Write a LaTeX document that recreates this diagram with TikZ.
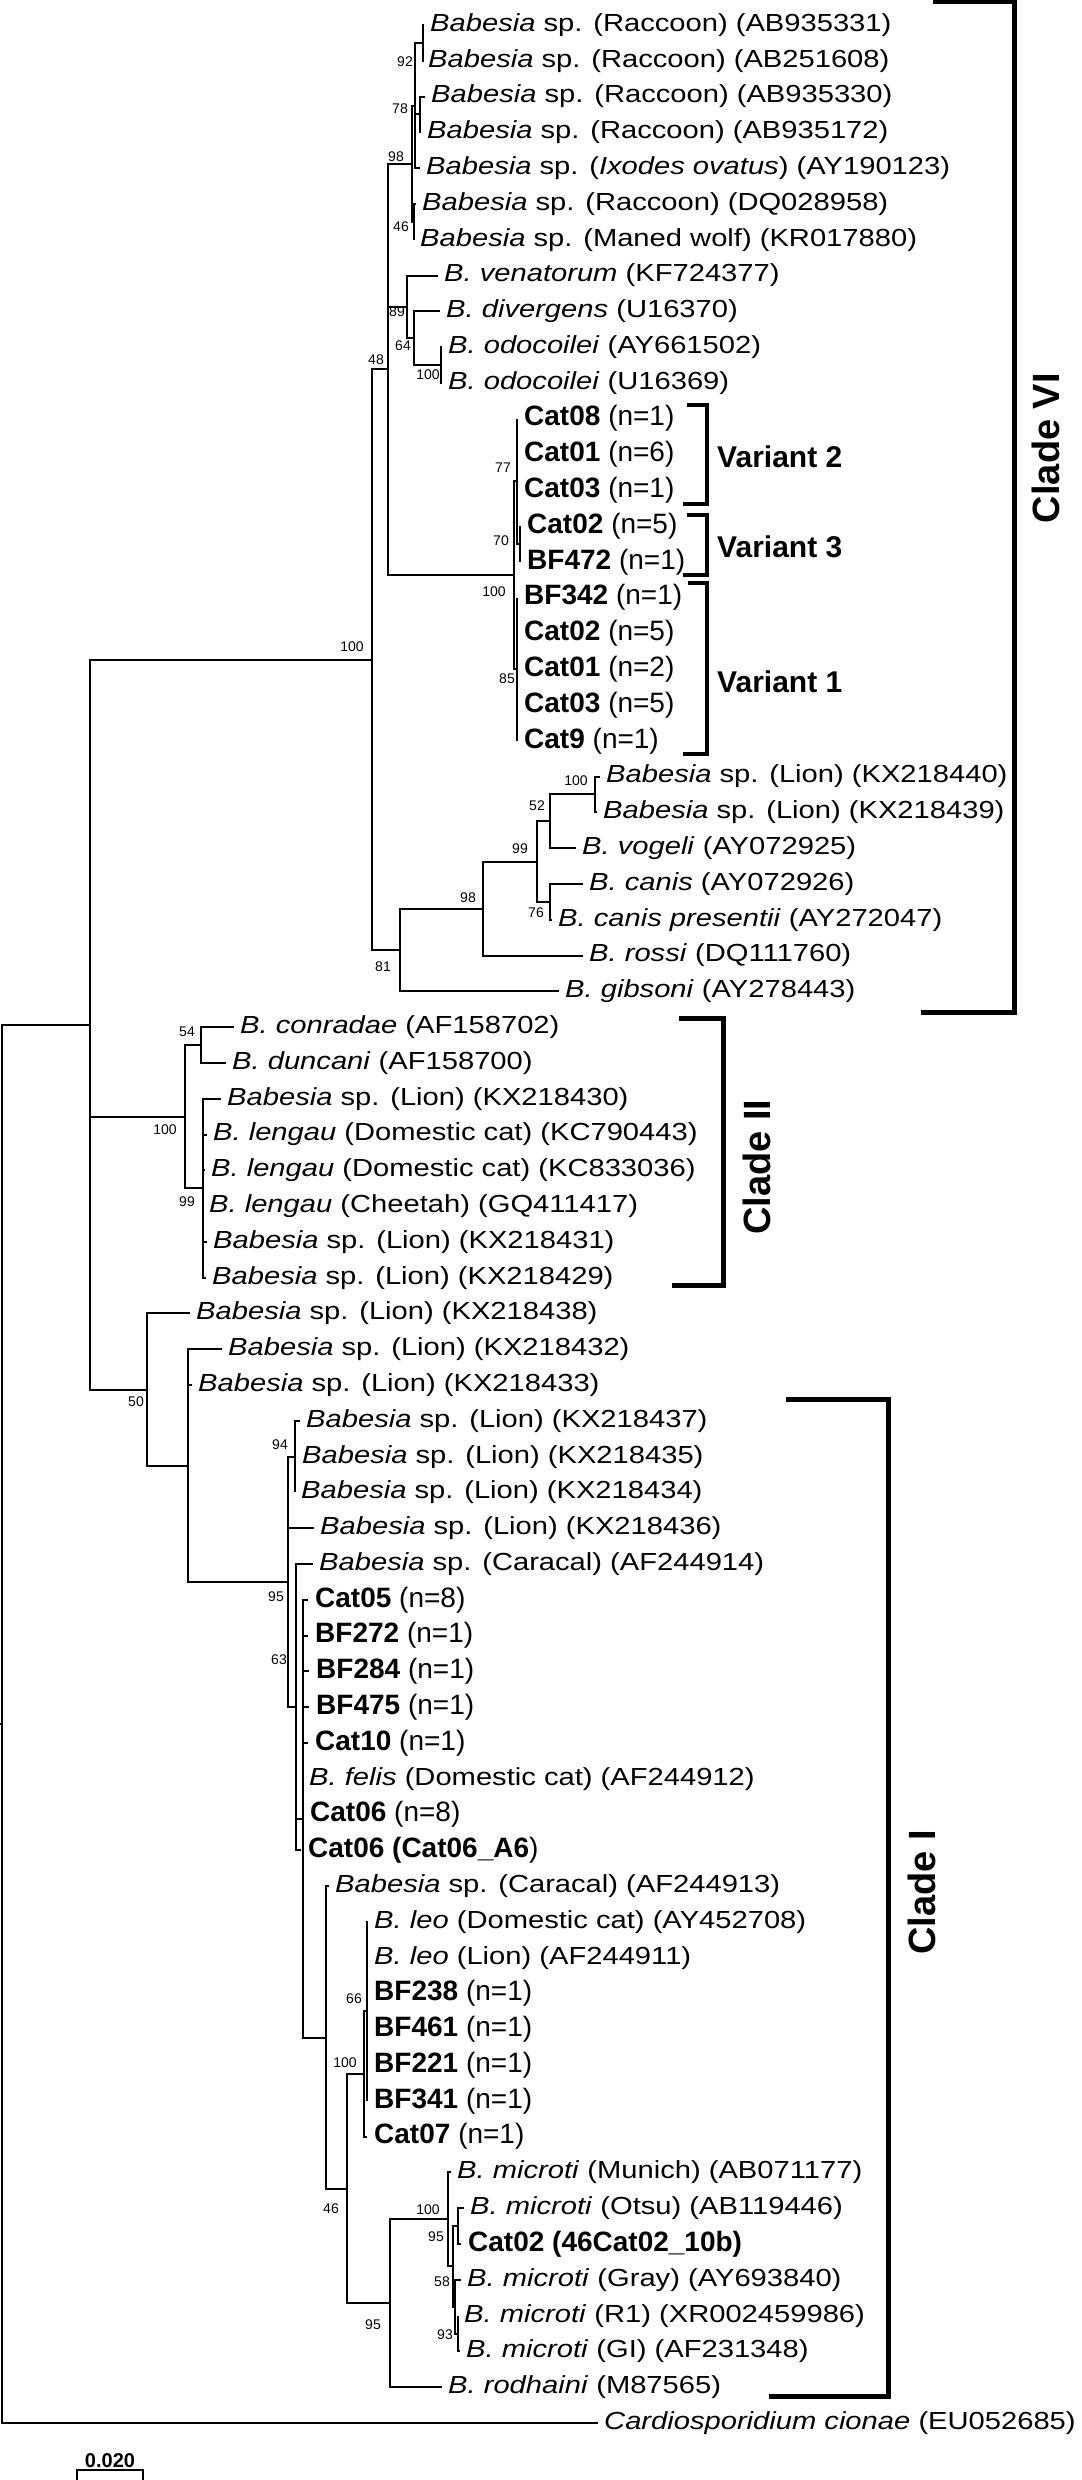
\documentclass[tikz,border=0pt]{standalone}
\usepackage{fontspec}
\setmainfont{Liberation Sans}
\newfontfamily\taxonfont{Liberation Sans}[FakeStretch=1.18]
\usepackage{tikz}

\begin{document}
\begin{tikzpicture}[x=1pt, y=-35.79pt,
  branch/.style={line width=2pt},
  taxon/.style={anchor=west, inner xsep=6pt, inner ysep=0pt, font=\taxonfont\fontsize{24.7}{26}\selectfont},
  sample/.style={anchor=west, inner xsep=7pt, inner ysep=0pt, font=\fontsize{28}{30}\selectfont},
  boot/.style={inner sep=0pt, font=\fontsize{14}{15}\selectfont},
  cladebar/.style={line width=5pt},
  variantbar/.style={line width=4pt},
  cladelabel/.style={rotate=90, inner sep=0pt, font=\bfseries\fontsize{38}{40}\selectfont},
  variantlabel/.style={anchor=west, inner sep=0pt, font=\bfseries\fontsize{30}{32}\selectfont}]
  \useasboundingbox (0,0.3015) rectangle (1081,69.594);

  % Clade VI
  \node[taxon] (l1) at (424,1) {\textit{Babesia} sp. (Raccoon) (AB935331)};
  \node[taxon] (l2) at (422,2) {\textit{Babesia} sp. (Raccoon) (AB251608)};
  \node[taxon] (l3) at (425,3) {\textit{Babesia} sp. (Raccoon) (AB935330)};
  \node[taxon] (l4) at (421,4) {\textit{Babesia} sp. (Raccoon) (AB935172)};
  \node[taxon] (l5) at (420,5) {\textit{Babesia} sp. (\textit{Ixodes ovatus}) (AY190123)};
  \node[taxon] (l6) at (416,6) {\textit{Babesia} sp. (Raccoon) (DQ028958)};
  \node[taxon] (l7) at (414,7) {\textit{Babesia} sp. (Maned wolf) (KR017880)};
  \node[taxon] (l8) at (438,8) {\textit{B. venatorum} (KF724377)};
  \node[taxon] (l9) at (440,9) {\textit{B. divergens} (U16370)};
  \node[taxon] (l10) at (442,10) {\textit{B. odocoilei} (AY661502)};
  \node[taxon] (l11) at (442,11) {\textit{B. odocoilei} (U16369)};
  \node[sample] (l12) at (517,12) {\textbf{Cat08} (n=1)};
  \node[sample] (l13) at (517,13) {\textbf{Cat01} (n=6)};
  \node[sample] (l14) at (517,14) {\textbf{Cat03} (n=1)};
  \node[sample] (l15) at (520,15) {\textbf{Cat02} (n=5)};
  \node[sample] (l16) at (520,16) {\textbf{BF472} (n=1)};
  \node[sample] (l17) at (517,17) {\textbf{BF342} (n=1)};
  \node[sample] (l18) at (517,18) {\textbf{Cat02} (n=5)};
  \node[sample] (l19) at (517,19) {\textbf{Cat01} (n=2)};
  \node[sample] (l20) at (517,20) {\textbf{Cat03} (n=5)};
  \node[sample] (l21) at (517,21) {\textbf{Cat9} (n=1)};
  \node[taxon] (l22) at (600,22) {\textit{Babesia} sp. (Lion) (KX218440)};
  \node[taxon] (l23) at (597,23) {\textit{Babesia} sp. (Lion) (KX218439)};
  \node[taxon] (l24) at (576,24) {\textit{B. vogeli} (AY072925)};
  \node[taxon] (l25) at (583,25) {\textit{B. canis} (AY072926)};
  \node[taxon] (l26) at (552,26) {\textit{B. canis presentii} (AY272047)};
  \node[taxon] (l27) at (583,27) {\textit{B. rossi} (DQ111760)};
  \node[taxon] (l28) at (559,28) {\textit{B. gibsoni} (AY278443)};

  % Clade II
  \node[taxon] (l29) at (234,29) {\textit{B. conradae} (AF158702)};
  \node[taxon] (l30) at (226,30) {\textit{B. duncani} (AF158700)};
  \node[taxon] (l31) at (221,31) {\textit{Babesia} sp. (Lion) (KX218430)};
  \node[taxon] (l32) at (207,32) {\textit{B. lengau} (Domestic cat) (KC790443)};
  \node[taxon] (l33) at (205,33) {\textit{B. lengau} (Domestic cat) (KC833036)};
  \node[taxon] (l34) at (203,34) {\textit{B. lengau} (Cheetah) (GQ411417)};
  \node[taxon] (l35) at (207,35) {\textit{Babesia} sp. (Lion) (KX218431)};
  \node[taxon] (l36) at (206,36) {\textit{Babesia} sp. (Lion) (KX218429)};

  % lion isolates and Clade I
  \node[taxon] (l37) at (190,37) {\textit{Babesia} sp. (Lion) (KX218438)};
  \node[taxon] (l38) at (222,38) {\textit{Babesia} sp. (Lion) (KX218432)};
  \node[taxon] (l39) at (192,39) {\textit{Babesia} sp. (Lion) (KX218433)};
  \node[taxon] (l40) at (300,40) {\textit{Babesia} sp. (Lion) (KX218437)};
  \node[taxon] (l41) at (296,41) {\textit{Babesia} sp. (Lion) (KX218435)};
  \node[taxon] (l42) at (295,42) {\textit{Babesia} sp. (Lion) (KX218434)};
  \node[taxon] (l43) at (314,43) {\textit{Babesia} sp. (Lion) (KX218436)};
  \node[taxon] (l44) at (313,44) {\textit{Babesia} sp. (Caracal) (AF244914)};
  \node[sample] (l45) at (308,45) {\textbf{Cat05} (n=8)};
  \node[sample] (l46) at (308,46) {\textbf{BF272} (n=1)};
  \node[sample] (l47) at (309,47) {\textbf{BF284} (n=1)};
  \node[sample] (l48) at (309,48) {\textbf{BF475} (n=1)};
  \node[sample] (l49) at (308,49) {\textbf{Cat10} (n=1)};
  \node[taxon] (l50) at (303,50) {\textit{B. felis} (Domestic cat) (AF244912)};
  \node[sample] (l51) at (303,51) {\textbf{Cat06} (n=8)};
  \node[sample] (l52) at (301,52) {\textbf{Cat06 (Cat06\_A6})};
  \node[taxon] (l53) at (329,53) {\textit{Babesia} sp. (Caracal) (AF244913)};
  \node[taxon] (l54) at (368,54) {\textit{B. leo} (Domestic cat) (AY452708)};
  \node[taxon] (l55) at (368,55) {\textit{B. leo} (Lion) (AF244911)};
  \node[sample] (l56) at (367,56) {\textbf{BF238} (n=1)};
  \node[sample] (l57) at (367,57) {\textbf{BF461} (n=1)};
  \node[sample] (l58) at (367,58) {\textbf{BF221} (n=1)};
  \node[sample] (l59) at (367,59) {\textbf{BF341} (n=1)};
  \node[sample] (l60) at (367,60) {\textbf{Cat07} (n=1)};
  \node[taxon] (l61) at (451,61) {\textit{B. microti} (Munich) (AB071177)};
  \node[taxon] (l62) at (464,62) {\textit{B. microti} (Otsu) (AB119446)};
  \node[sample] (l63) at (461,63) {\textbf{Cat02 (46Cat02\_10b)}};
  \node[taxon] (l64) at (461,64) {\textit{B. microti} (Gray) (AY693840)};
  \node[taxon] (l65) at (458,65) {\textit{B. microti} (R1) (XR002459986)};
  \node[taxon] (l66) at (460,66) {\textit{B. microti} (GI) (AF231348)};
  \node[taxon] (l67) at (442,67) {\textit{B. rodhaini} (M87565)};

  % outgroup
  \node[taxon] (l68) at (598,68) {\textit{Cardiosporidium cionae} (EU052685)};

  % inner nodes
  \coordinate (stub) at (0,48.46);
  \coordinate (root) at (2,48.46);
  \coordinate (nA) at (90,28.93);
  \coordinate (nB) at (372,18.73);
  \coordinate (n48) at (388,10.625);
  \coordinate (n98) at (412,4.875);
  \coordinate (n78) at (415,3.25);
  \coordinate (n92) at (423,1.5);
  \coordinate (n34) at (420,3.5);
  \coordinate (n46a) at (414,6.5);
  \coordinate (n89) at (407,8.875);
  \coordinate (n64) at (414,9.75);
  \coordinate (n100b) at (441,10.5);
  \coordinate (nCat) at (514,16.375);
  \coordinate (n77) at (517,13.75);
  \coordinate (n70) at (520,15.5);
  \coordinate (n85) at (517,19);
  \coordinate (n81) at (400,26.84);
  \coordinate (n98b) at (483,25.69);
  \coordinate (n99) at (537,24.375);
  \coordinate (n52) at (550,23.25);
  \coordinate (n100c) at (595,22.5);
  \coordinate (n76) at (550,25.5);
  \coordinate (nD) at (185,31.5);
  \coordinate (n54) at (201,29.5);
  \coordinate (n99d) at (203,33.5);
  \coordinate (nC) at (147,39.125);
  \coordinate (nE) at (188,41.25);
  \coordinate (n95) at (288,44.5);
  \coordinate (n94) at (295,41);
  \coordinate (n63) at (296,48);
  \coordinate (nP) at (303,51.115);
  \coordinate (nLM) at (326,57.23);
  \coordinate (n46b) at (347,61.45);
  \coordinate (n100l) at (364,58.25);
  \coordinate (n66) at (367,56.5);
  \coordinate (n95m) at (390,64.66);
  \coordinate (n100m) at (448,62.31);
  \coordinate (nA1) at (453,63.625);
  \coordinate (n95c) at (458,62.5);
  \coordinate (n58) at (455,64.75);
  \coordinate (n93) at (458,65.5);

  % branches
  \draw[branch] (stub) -- (root);
  \draw[branch] (root) |- (nA) (root) |- (l68.west);
  \draw[branch] (nA) |- (nB) (nA) |- (nD) (nA) |- (nC);
  \draw[branch] (nB) |- (n48) (nB) |- (n81);
  \draw[branch] (n48) |- (n98) (n48) |- (n89) (n48) |- (nCat);
  \draw[branch] (n98) |- (n78) (n98) |- (n46a);
  \draw[branch] (n78) |- (n92) (n78) |- (n34) (n78) |- (l5.west);
  \draw[branch] (n92) |- (l1.west) (n92) |- (l2.west);
  \draw[branch] (n34) |- (l3.west) (n34) |- (l4.west);
  \draw[branch] (n46a) |- (l6.west) (n46a) |- (l7.west);
  \draw[branch] (n89) |- (l8.west) (n89) |- (n64);
  \draw[branch] (n64) |- (l9.west) (n64) |- (n100b);
  \draw[branch] (n100b) |- (l10.west) (n100b) |- (l11.west);
  \draw[branch] (nCat) |- (n77) (nCat) |- (n85);
  \draw[branch] (n77) |- (l12.west) (n77) |- (l13.west) (n77) |- (l14.west) (n77) |- (n70);
  \draw[branch] (n70) |- (l15.west) (n70) |- (l16.west);
  \draw[branch] (n85) |- (l17.west) (n85) |- (l18.west) (n85) |- (l19.west) (n85) |- (l20.west) (n85) |- (l21.west);
  \draw[branch] (n81) |- (n98b) (n81) |- (l28.west);
  \draw[branch] (n98b) |- (n99) (n98b) |- (l27.west);
  \draw[branch] (n99) |- (n52) (n99) |- (n76);
  \draw[branch] (n52) |- (n100c) (n52) |- (l24.west);
  \draw[branch] (n100c) |- (l22.west) (n100c) |- (l23.west);
  \draw[branch] (n76) |- (l25.west) (n76) |- (l26.west);
  \draw[branch] (nD) |- (n54) (nD) |- (n99d);
  \draw[branch] (n54) |- (l29.west) (n54) |- (l30.west);
  \draw[branch] (n99d) |- (l31.west) (n99d) |- (l32.west) (n99d) |- (l33.west) (n99d) |- (l34.west) (n99d) |- (l35.west) (n99d) |- (l36.west);
  \draw[branch] (nC) |- (l37.west) (nC) |- (nE);
  \draw[branch] (nE) |- (l38.west) (nE) |- (l39.west) (nE) |- (n95);
  \draw[branch] (n95) |- (n94) (n95) |- (l43.west) (n95) |- (n63);
  \draw[branch] (n94) |- (l40.west) (n94) |- (l41.west) (n94) |- (l42.west);
  \draw[branch] (n63) |- (l44.west) (n63) |- (nP) (n63) |- (l52.west);
  \draw[branch] (nP) |- (l45.west) (nP) |- (l46.west) (nP) |- (l47.west) (nP) |- (l48.west) (nP) |- (l49.west) (nP) |- (l50.west) (nP) |- (l51.west) (nP) |- (nLM);
  \draw[branch] (nLM) |- (l53.west) (nLM) |- (n46b);
  \draw[branch] (n46b) |- (n100l) (n46b) |- (n95m);
  \draw[branch] (n100l) |- (n66) (n100l) |- (l60.west);
  \draw[branch] (n66) |- (l54.west) (n66) |- (l55.west) (n66) |- (l56.west) (n66) |- (l57.west) (n66) |- (l58.west) (n66) |- (l59.west);
  \draw[branch] (n95m) |- (n100m) (n95m) |- (l67.west);
  \draw[branch] (n100m) |- (l61.west) (n100m) |- (nA1);
  \draw[branch] (nA1) |- (n95c) (nA1) |- (n58);
  \draw[branch] (n95c) |- (l62.west) (n95c) |- (l63.west);
  \draw[branch] (n58) |- (l64.west) (n58) |- (n93);
  \draw[branch] (n93) |- (l65.west) (n93) |- (l66.west);

  % bootstrap values
  \node[boot] (b92) at (405,2.03) {92};
  \node[boot] (b78) at (400,3.35) {78};
  \node[boot] (b98a) at (396,4.69) {98};
  \node[boot] (b46a) at (401,6.64) {46};
  \node[boot] (b89) at (397,9.02) {89};
  \node[boot] (b64) at (403,9.97) {64};
  \node[boot] (b100a) at (428,10.78) {100};
  \node[boot] (b48) at (376,10.36) {48};
  \node[boot] (b77) at (503,13.38) {77};
  \node[boot] (b70) at (501,15.42) {70};
  \node[boot] (b100b) at (494,16.84) {100};
  \node[boot] (b85) at (507,19.27) {85};
  \node[boot] (b100c) at (352,18.38) {100};
  \node[boot] (b100d) at (576,22.12) {100};
  \node[boot] (b52) at (537,22.82) {52};
  \node[boot] (b99a) at (520,24.0) {99};
  \node[boot] (b98b) at (468,25.37) {98};
  \node[boot] (b76) at (536,25.81) {76};
  \node[boot] (b81) at (383,27.32) {81};
  \node[boot] (b54) at (187,29.14) {54};
  \node[boot] (b100e) at (165,31.87) {100};
  \node[boot] (b99b) at (187,33.89) {99};
  \node[boot] (b50) at (136,39.47) {50};
  \node[boot] (b94) at (280,40.68) {94};
  \node[boot] (b95a) at (276,44.92) {95};
  \node[boot] (b63) at (279,46.68) {63};
  \node[boot] (b66) at (354,56.15) {66};
  \node[boot] (b100f) at (345,57.94) {100};
  \node[boot] (b46b) at (331,62.0) {46};
  \node[boot] (b100g) at (428,62.05) {100};
  \node[boot] (b95b) at (436,62.8) {95};
  \node[boot] (b58) at (442,64.06) {58};
  \node[boot] (b93) at (445,65.54) {93};
  \node[boot] (b95c) at (373,65.26) {95};

  % variants
  \draw[variantbar] (687,11.62) -| (707,14.38) -- (683,14.38);
  \draw[variantbar] (687,14.69) -| (707,16.37) -- (683,16.37);
  \draw[variantbar] (688,16.59) -| (707,21.37) -- (683,21.37);
  \node[variantlabel] (var2) at (717,13.07) {Variant 2};
  \node[variantlabel] (var3) at (717,15.58) {Variant 3};
  \node[variantlabel] (var1) at (717,19.36) {Variant 1};

  % clades
  \draw[cladebar] (933,0.357) -| (1014,28.58) -- (921,28.58);
  \draw[cladebar] (679,28.75) -| (723,36.21) -- (672,36.21);
  \draw[cladebar] (786,39.39) -| (888,67.27) -- (769,67.27);
  \node[cladelabel] (clade6) at (1046,12.82) {Clade VI};
  \node[cladelabel] (clade2) at (757,32.91) {Clade II};
  \node[cladelabel] (clade1) at (922,53.17) {Clade I};

  % scale bar
  \node[inner sep=0pt, font=\bfseries\fontsize{20}{22}\selectfont] (scale) at (110,69.06) {0.020};
  \draw[line width=2pt] (77,69.59) |- (143,69.31) -- (143,69.59);
\end{tikzpicture}
\end{document}
